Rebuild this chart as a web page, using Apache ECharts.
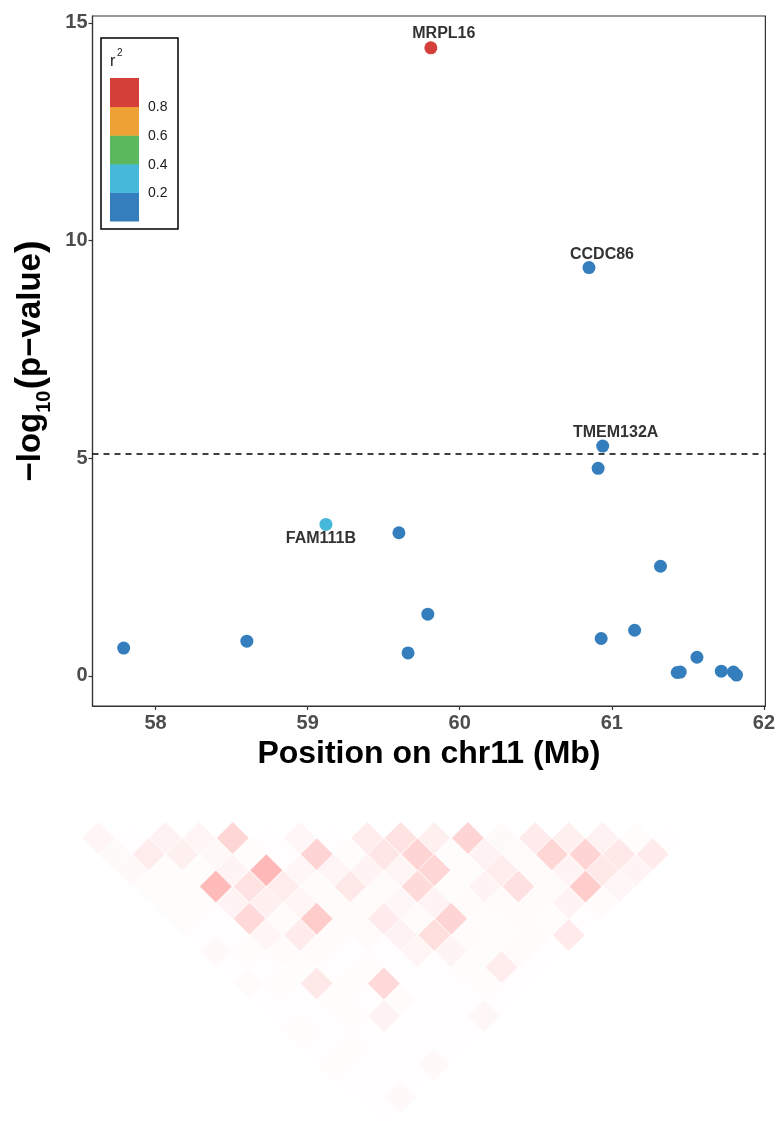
<!DOCTYPE html>
<html>
<head>
<meta charset="utf-8">
<script src="https://cdn.jsdelivr.net/npm/echarts@6/dist/echarts.min.js"></script>
<style>
html, body { margin: 0; padding: 0; background: #fff; }
#main { width: 778px; height: 1121px; }
</style>
</head>
<body>
<div id="main"></div>
<script>
// SNPs in the region, sorted by position (Mb on chr11)
var posMb  = [57.79, 58.60, 59.12, 59.60, 59.66, 59.79, 59.81, 60.85, 60.91, 60.93, 60.94, 61.15, 61.32, 61.43, 61.45, 61.56, 61.72, 61.80, 61.82];
var logP   = [0.64, 0.80, 3.48, 3.29, 0.53, 1.42, 14.43, 9.38, 4.77, 0.86, 5.28, 1.05, 2.52, 0.08, 0.09, 0.43, 0.11, 0.09, 0.02];
// r2 with the lead SNP (MRPL16)
var r2Lead = [0.02, 0.02, 0.27, 0.05, 0.02, 0.01, 1.00, 0.03, 0.17, 0.02, 0.09, 0.05, 0.08, 0.02, 0.02, 0.02, 0.02, 0.02, 0.02];
var genes  = ['', '', 'FAM111B', '', '', '', 'MRPL16', 'CCDC86', '', '', 'TMEM132A', '', '', '', '', '', '', '', ''];
var threshold = 5.1;

var xTicks = [58, 59, 60, 61, 62];
var yTicks = [0, 5, 10, 15];

// r2 legend bands (low -> high) and the breaks between them
var r2Colors = ['#357EBD', '#46B8DA', '#5CB85C', '#EEA236', '#D43F3A'];
var r2Breaks = [0.2, 0.4, 0.6, 0.8];

// pairwise LD: ldByGap[d][i] = r2 between SNP i and SNP i+d+1
var ldByGap = [
    [0.04, 0.008, 0.05, 0.04, 0.16, 0.006, 0.03, 0.006, 0.07, 0.11, 0.06, 0.17, 0.02, 0.08, 0.06, 0.05, 0.012, 0.008],
    [0.02, 0.075, 0.06, 0.027, 0.012, 0.006, 0.17, 0.012, 0.10, 0.17, 0.012, 0.05, 0.015, 0.16, 0.17, 0.09, 0.08],
    [0.025, 0.012, 0.012, 0.045, 0.28, 0.03, 0.04, 0.047, 0.04, 0.16, 0.012, 0.075, 0.015, 0.047, 0.09, 0.047],
    [0.012, 0.012, 0.27, 0.11, 0.075, 0.015, 0.09, 0.015, 0.145, 0.012, 0.047, 0.12, 0.015, 0.2, 0.03],
    [0.012, 0.012, 0.047, 0.06, 0.04, 0.015, 0.015, 0.03, 0.047, 0.015, 0.015, 0.015, 0.047, 0.015],
    [0.012, 0.006, 0.15, 0.015, 0.2, 0.015, 0.08, 0.015, 0.17, 0.012, 0.015, 0.012, 0.006],
    [0.006, 0.006, 0.04, 0.08, 0.015, 0.015, 0.05, 0.13, 0.015, 0.012, 0.015, 0.08],
    [0.025, 0.012, 0.015, 0.015, 0.006, 0.006, 0.04, 0.045, 0.012, 0.015, 0.006],
    [0.006, 0.006, 0.012, 0.006, 0.012, 0.006, 0.006, 0.012, 0.075, 0.006],
    [0.015, 0.012, 0.09, 0.012, 0.15, 0.006, 0.006, 0.012, 0.006],
    [0.006, 0.006, 0.012, 0.006, 0.015, 0.006, 0.006, 0.006],
    [0.006, 0.006, 0.012, 0.05, 0.006, 0.006, 0.03],
    [0.012, 0.006, 0.006, 0.006, 0.006, 0.006],
    [0.006, 0.012, 0.006, 0.006, 0.006],
    [0.012, 0.006, 0.006, 0.025],
    [0.006, 0.006, 0.006],
    [0.006, 0.025],
    [0.006]
];

var chart = echarts.init(document.getElementById('main'));
var font = 'Liberation Sans, Arial, Helvetica, sans-serif';

// where each gene label sits relative to its point (px)
var labelOffsets = {
    'MRPL16': [13, -14],
    'CCDC86': [13, -13],
    'TMEM132A': [13, -14],
    'FAM111B': [-5, 14]
};

var snpData = [];
for (var i = 0; i < posMb.length; i++) {
    var item = { value: [posMb[i], logP[i], r2Lead[i]] };
    if (genes[i]) {
        item.label = {
            show: true,
            position: 'inside',
            offset: labelOffsets[genes[i]],
            formatter: genes[i],
            color: '#333',
            fontFamily: font,
            fontWeight: 'bold',
            fontSize: 16,
            textBorderWidth: 0
        };
    }
    snpData.push(item);
}

// diamonds: x = midpoint between the two SNP indices, y = distance row
var ldData = [];
for (var d = 0; d < ldByGap.length; d++) {
    for (var k = 0; k < ldByGap[d].length; k++) {
        ldData.push([k + d / 2, d, ldByGap[d][k]]);
    }
}

// r2 legend, drawn as graphic
var legendX = 110, legendTop = 78, bandH = 28.6, bandW = 29;
var legendEls = [
    { type: 'rect', shape: { x: 101, y: 38, width: 77, height: 191 },
      style: { fill: '#fff', stroke: '#000', lineWidth: 1.5 } },
    { type: 'text', x: 110, y: 54, style: { text: 'r', font: '16px ' + font, fill: '#1a1a1a' } },
    { type: 'text', x: 117, y: 48, style: { text: '2', font: '10px ' + font, fill: '#1a1a1a' } }
];
for (var b = 0; b < r2Colors.length; b++) {
    legendEls.push({
        type: 'rect',
        shape: { x: legendX, y: legendTop + (r2Colors.length - 1 - b) * bandH, width: bandW, height: bandH + 0.5 },
        style: { fill: r2Colors[b] }
    });
}
for (var t = 0; t < r2Breaks.length; t++) {
    legendEls.push({
        type: 'text',
        x: 148,
        y: legendTop + (r2Colors.length - 1 - t) * bandH + 1,
        style: { text: r2Breaks[t].toFixed(1), font: '14px ' + font, fill: '#1a1a1a', verticalAlign: 'middle' }
    });
}

chart.setOption({
    animation: false,
    backgroundColor: '#fff',
    grid: [
        { left: 92.5, top: 16, width: 673.5, height: 690, show: true, borderColor: '#333', borderWidth: 1.2 },
        { left: 81.5, top: 829.9, width: 604.8, height: 302.4 }
    ],
    xAxis: [{
        gridIndex: 0,
        type: 'value',
        min: 57.585,
        max: 62.01,
        name: 'Position on chr11 (Mb)',
        nameLocation: 'middle',
        nameGap: 32,
        nameTextStyle: { fontFamily: font, fontWeight: 'bold', fontSize: 32, color: '#000' },
        axisLine: { show: true, onZero: false, lineStyle: { color: '#333', width: 1.2 } },
        axisTick: { show: true, customValues: xTicks, length: 4, lineStyle: { color: '#333', width: 1.2 } },
        axisLabel: { customValues: xTicks, margin: 7, fontFamily: font, fontWeight: 'bold', fontSize: 20, color: '#4D4D4D' },
        splitLine: { show: false }
    }, {
        gridIndex: 1, type: 'value', min: -0.5, max: 17.5, show: false
    }],
    yAxis: [{
        gridIndex: 0,
        type: 'value',
        min: -0.69,
        max: 15.16,
        name: '{t|\u2212log}{s|10}{p|(}{t|p\u2212value}{p|)}',
        nameLocation: 'middle',
        nameRotate: 90,
        nameGap: 41,
        nameTextStyle: {
            rich: {
                t: { fontFamily: font, fontWeight: 'bold', fontSize: 33, color: '#000', lineHeight: 38 },
                p: { fontFamily: font, fontWeight: 'bold', fontSize: 38, color: '#000', lineHeight: 38 },
                s: { fontFamily: font, fontWeight: 'bold', fontSize: 20, color: '#000', lineHeight: 38, verticalAlign: 'bottom', padding: [0, 1, -4, 0] }
            }
        },
        axisLine: { show: true, onZero: false, lineStyle: { color: '#333', width: 1.2 } },
        axisTick: { show: true, customValues: yTicks, length: 4, lineStyle: { color: '#333', width: 1.2 } },
        axisLabel: { customValues: yTicks, margin: 5, fontFamily: font, fontWeight: 'bold', fontSize: 20, color: '#4D4D4D' },
        splitLine: { show: false }
    }, {
        gridIndex: 1, type: 'value', min: -0.5, max: 17.5, inverse: true, show: false
    }],
    visualMap: [{
        type: 'piecewise',
        show: false,
        seriesIndex: 0,
        dimension: 2,
        pieces: [
            { min: 0, lt: r2Breaks[0], color: r2Colors[0] },
            { gte: r2Breaks[0], lt: r2Breaks[1], color: r2Colors[1] },
            { gte: r2Breaks[1], lt: r2Breaks[2], color: r2Colors[2] },
            { gte: r2Breaks[2], lt: r2Breaks[3], color: r2Colors[3] },
            { gte: r2Breaks[3], lte: 1, color: r2Colors[4] }
        ]
    }, {
        type: 'continuous',
        show: false,
        seriesIndex: 1,
        dimension: 2,
        min: 0,
        max: 1,
        inRange: { color: ['#FFFFFF', '#FF0000'] }
    }],
    series: [{
        type: 'scatter',
        xAxisIndex: 0,
        yAxisIndex: 0,
        symbol: 'circle',
        symbolSize: 13,
        itemStyle: { opacity: 1 },
        data: snpData,
        z: 3,
        markLine: {
            silent: true,
            symbol: 'none',
            label: { show: false },
            lineStyle: { color: '#000', type: [6, 5], width: 1.5 },
            data: [{ yAxis: threshold }]
        }
    }, {
        type: 'scatter',
        xAxisIndex: 1,
        yAxisIndex: 1,
        symbol: 'diamond',
        symbolSize: 32,
        itemStyle: { opacity: 1 },
        clip: false,
        data: ldData
    }],
    graphic: legendEls
});
</script>
</body>
</html>
